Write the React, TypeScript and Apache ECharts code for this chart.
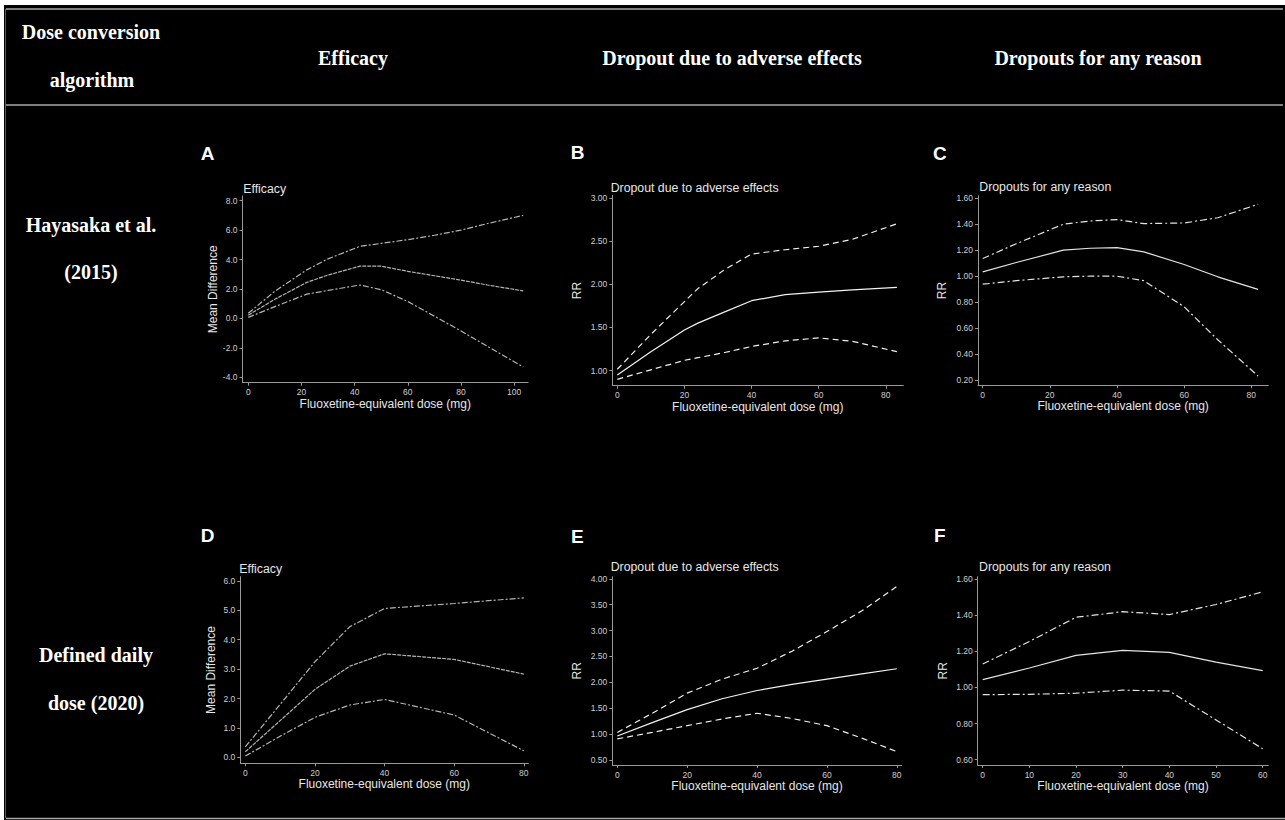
import React, { useEffect, useRef } from "react";
import * as echarts from "echarts";

// ---------- Data ----------
// Panel A: Hayasaka et al. (2015) – Efficacy
const doseA = [0, 10, 22, 30, 42, 50, 60, 70, 80, 90, 103.4];
const upperA = [0.35, 1.85, 3.3, 4.05, 4.9, 5.1, 5.35, 5.65, 6.0, 6.45, 7.0];
const estA = [0.22, 1.3, 2.45, 2.95, 3.55, 3.55, 3.2, 2.9, 2.6, 2.27, 1.87];
const lowerA = [0.07, 0.8, 1.65, 1.9, 2.27, 1.95, 1.15, 0.15, -0.85, -1.9, -3.3];

// Panel B: Hayasaka et al. (2015) – Dropout due to adverse effects
const doseB = [0, 10, 20, 24, 32, 40, 50, 60, 70, 83.3];
const upperB = [1.016, 1.42, 1.8, 1.95, 2.17, 2.35, 2.4, 2.44, 2.52, 2.7];
const estB = [0.95, 1.22, 1.47, 1.55, 1.68, 1.81, 1.88, 1.91, 1.935, 1.965];
const lowerB = [0.9, 1.01, 1.12, 1.15, 1.21, 1.28, 1.345, 1.38, 1.34, 1.22];

// Panel C: Hayasaka et al. (2015) – Dropouts for any reason
const doseC = [0, 10, 24, 32, 40, 48, 60, 70, 82];
const upperC = [1.136, 1.25, 1.4, 1.425, 1.436, 1.405, 1.41, 1.45, 1.554];
const estC = [1.033, 1.105, 1.2, 1.215, 1.22, 1.187, 1.09, 0.995, 0.898];
const lowerC = [0.938, 0.965, 0.995, 1.0, 1.0, 0.965, 0.764, 0.51, 0.231];

// Panel D: Defined daily dose (2020) – Efficacy
const doseD = [0, 10, 20, 30, 40, 60, 80];
const upperD = [0.36, 1.8, 3.25, 4.44, 5.06, 5.23, 5.42];
const estD = [0.19, 1.25, 2.31, 3.1, 3.52, 3.33, 2.83];
const lowerD = [0.045, 0.72, 1.36, 1.78, 1.97, 1.44, 0.225];

// Panel E: Defined daily dose (2020) – Dropout due to adverse effects
const doseE = [0, 10, 20, 30, 40, 50, 60, 70, 80];
const upperE = [1.03, 1.4, 1.79, 2.06, 2.27, 2.6, 2.98, 3.38, 3.85];
const estE = [0.96, 1.22, 1.47, 1.68, 1.84, 1.96, 2.06, 2.16, 2.26];
const lowerE = [0.905, 1.03, 1.16, 1.29, 1.4, 1.3, 1.16, 0.92, 0.66];

// Panel F: Defined daily dose (2020) – Dropouts for any reason
const doseF = [0, 10, 20, 30, 40, 50, 60];
const upperF = [1.13, 1.255, 1.389, 1.42, 1.404, 1.46, 1.53];
const estF = [1.043, 1.108, 1.178, 1.205, 1.194, 1.14, 1.093];
const lowerF = [0.96, 0.962, 0.968, 0.985, 0.98, 0.82, 0.66];

// Tick labels
const xTicksA = [0, 20, 40, 60, 80, 100];
const yTicksA = [-4, -2, 0, 2, 4, 6, 8];
const xTicksB = [0, 20, 40, 60, 80];
const yTicksB = [1, 1.5, 2, 2.5, 3];
const xTicksC = [0, 20, 40, 60, 80];
const yTicksC = [0.2, 0.4, 0.6, 0.8, 1.0, 1.2, 1.4, 1.6];
const xTicksD = [0, 20, 40, 60, 80];
const yTicksD = [0, 1, 2, 3, 4, 5, 6];
const xTicksE = [0, 20, 40, 60, 80];
const yTicksE = [0.5, 1, 1.5, 2, 2.5, 3, 3.5, 4];
const xTicksF = [0, 10, 20, 30, 40, 50, 60];
const yTicksF = [0.6, 0.8, 1.0, 1.2, 1.4, 1.6];

// Texts
const headerTexts = ["Efficacy", "Dropout due to adverse effects", "Dropouts for any reason"];
const rowLabels = [["Hayasaka et al.", "(2015)"], ["Defined daily", "dose (2020)"]];
const xTitle = "Fluoxetine-equivalent dose (mg)";

const SANS = '"Liberation Sans", Arial, Helvetica, sans-serif';
const SERIF = '"Liberation Serif", "Times New Roman", Times, serif';

type Panel = {
  letter: string;
  subtitle: string;
  yName: string;
  dose: number[];
  upper: number[];
  est: number[];
  lower: number[];
  xTicks: number[];
  yTicks: number[];
  dec: number;
  grid: { left: number; top: number; width: number; height: number };
  xMin: number; xMax: number; yMin: number; yMax: number;
  yNameGap: number;
  letterPos: [number, number];
  subPos: [number, number];
  color: string;
  ciDash: number[];
  midDash: number[] | "solid";
};

const panels: Panel[] = [
  {
    letter: "A", subtitle: "Efficacy", yName: "Mean Difference",
    dose: doseA, upper: upperA, est: estA, lower: lowerA, xTicks: xTicksA, yTicks: yTicksA, dec: 1,
    grid: { left: 242.5, top: 196, width: 285.5, height: 186.7 },
    xMin: -2.18, xMax: 105.2, yMin: -4.37, yMax: 8.32, yNameGap: 24,
    letterPos: [200.7, 153], subPos: [243.3, 189.3], color: "#b4b4b4", ciDash: [6, 2, 2, 2], midDash: [4, 1],
  },
  {
    letter: "B", subtitle: "Dropout due to adverse effects", yName: "RR",
    dose: doseB, upper: upperB, est: estB, lower: lowerB, xTicks: xTicksB, yTicks: yTicksB, dec: 2,
    grid: { left: 612.3, top: 195.3, width: 291, height: 190.4 },
    xMin: -1.49, xMax: 85.2, yMin: 0.826, yMax: 3.03, yNameGap: 29,
    letterPos: [570.7, 152.7], subPos: [610.7, 187.7], color: "#f2f2f2", ciDash: [6, 4], midDash: "solid",
  },
  {
    letter: "C", subtitle: "Dropouts for any reason", yName: "RR",
    dose: doseC, upper: upperC, est: estC, lower: lowerC, xTicks: xTicksC, yTicks: yTicksC, dec: 2,
    grid: { left: 978, top: 195.7, width: 290.3, height: 189.6 },
    xMin: -1.4, xMax: 85.06, yMin: 0.159, yMax: 1.62, yNameGap: 30,
    letterPos: [933, 153], subPos: [979.3, 187.3], color: "#e4e4e4", ciDash: [7, 3, 2, 3], midDash: "solid",
  },
  {
    letter: "D", subtitle: "Efficacy", yName: "Mean Difference",
    dose: doseD, upper: upperD, est: estD, lower: lowerD, xTicks: xTicksD, yTicks: yTicksD, dec: 1,
    grid: { left: 240.3, top: 576.7, width: 288, height: 186.6 },
    xMin: -1.44, xMax: 81.3, yMin: -0.2, yMax: 6.14, yNameGap: 23,
    letterPos: [200.7, 535.5], subPos: [239.3, 569.3], color: "#b4b4b4", ciDash: [6, 2, 2, 2], midDash: [4, 1],
  },
  {
    letter: "E", subtitle: "Dropout due to adverse effects", yName: "RR",
    dose: doseE, upper: upperE, est: estE, lower: lowerE, xTicks: xTicksE, yTicks: yTicksE, dec: 2,
    grid: { left: 612.3, top: 576.7, width: 289.4, height: 188.3 },
    xMin: -1.43, xMax: 81.4, yMin: 0.4, yMax: 4.04, yNameGap: 29,
    letterPos: [571, 536], subPos: [610.7, 567.3], color: "#f2f2f2", ciDash: [6, 4], midDash: "solid",
  },
  {
    letter: "F", subtitle: "Dropouts for any reason", yName: "RR",
    dose: doseF, upper: upperF, est: estF, lower: lowerF, xTicks: xTicksF, yTicks: yTicksF, dec: 2,
    grid: { left: 977.7, top: 576.7, width: 290.6, height: 188.3 },
    xMin: -1.07, xMax: 61.2, yMin: 0.57, yMax: 1.614, yNameGap: 29,
    letterPos: [934, 535.5], subPos: [979, 567.3], color: "#e4e4e4", ciDash: [7, 3, 2, 3], midDash: "solid",
  },
];

const AXIS_COLOR = "#9a9a9a";
const LABEL_COLOR = "#cfcfcf";

function buildOption() {
  const grids: any[] = [];
  const xAxes: any[] = [];
  const yAxes: any[] = [];
  const series: any[] = [];
  const graphics: any[] = [];

  panels.forEach((p, i) => {
    grids.push({ ...p.grid, containLabel: false });
    xAxes.push({
      type: "value", gridIndex: i, min: p.xMin, max: p.xMax,
      name: xTitle, nameLocation: "middle", nameGap: 14,
      nameTextStyle: { color: "#e6e6e6", fontSize: 12, fontFamily: SANS },
      axisLine: { show: true, onZero: false, lineStyle: { color: AXIS_COLOR, width: 1 } },
      axisTick: { show: true, length: 3, customValues: p.xTicks, lineStyle: { color: AXIS_COLOR } },
      axisLabel: { customValues: p.xTicks, color: LABEL_COLOR, fontSize: 8.5, fontFamily: SANS, margin: 5,
        formatter: (v: number) => String(Math.round(v)) },
      splitLine: { show: false },
    });
    yAxes.push({
      type: "value", gridIndex: i, min: p.yMin, max: p.yMax,
      name: p.yName, nameLocation: "middle", nameGap: p.yNameGap, nameRotate: 90,
      nameTextStyle: { color: "#e6e6e6", fontSize: 12, fontFamily: SANS },
      axisLine: { show: true, onZero: false, lineStyle: { color: AXIS_COLOR, width: 1 } },
      axisTick: { show: true, length: 3, customValues: p.yTicks, lineStyle: { color: AXIS_COLOR } },
      axisLabel: { customValues: p.yTicks, color: LABEL_COLOR, fontSize: 8.5, fontFamily: SANS, margin: 5,
        formatter: (v: number) => v.toFixed(p.dec) },
      splitLine: { show: false },
    });
    const mk = (vals: number[], dash: number[] | "solid", name: string) => ({
      type: "line", name, xAxisIndex: i, yAxisIndex: i, symbol: "none", silent: true,
      data: p.dose.map((d, k) => [d, vals[k]]),
      lineStyle: { color: p.color, width: 1.2, type: dash },
    });
    series.push(mk(p.upper, p.ciDash, p.letter + "-upper"));
    series.push(mk(p.est, p.midDash, p.letter + "-estimate"));
    series.push(mk(p.lower, p.ciDash, p.letter + "-lower"));

    graphics.push({
      type: "text", x: p.letterPos[0], y: p.letterPos[1],
      style: { text: p.letter, fill: "#ffffff", font: `bold 19px ${SANS}`, textAlign: "left", textVerticalAlign: "middle" },
    });
    graphics.push({
      type: "text", x: p.subPos[0], y: p.subPos[1],
      style: { text: p.subtitle, fill: "#e6e6e6", font: `12.3px ${SANS}`, textAlign: "left", textVerticalAlign: "middle" },
    });
  });

  // table lines
  const lineStyle = { stroke: "#a8a8a8", lineWidth: 1.5 };
  graphics.push({ type: "line", shape: { x1: 6, y1: 9, x2: 1283, y2: 9 }, style: lineStyle });
  graphics.push({ type: "line", shape: { x1: 6, y1: 105, x2: 1283, y2: 105 }, style: lineStyle });
  graphics.push({ type: "line", shape: { x1: 6, y1: 818.5, x2: 1285, y2: 818.5 }, style: lineStyle });
  graphics.push({ type: "line", shape: { x1: 5.5, y1: 9, x2: 5.5, y2: 818 }, style: { stroke: "#5a5a5a", lineWidth: 1 } });

  const headFont = `bold 20px ${SERIF}`;
  const headerCenters = [353, 732, 1098];
  const head = (text: string, x: number, y: number) => ({
    type: "text", x, y,
    style: { text, fill: "#ffffff", font: headFont, textAlign: "center", textVerticalAlign: "middle" },
  });
  graphics.push(head("Dose conversion", 91, 32));
  graphics.push(head("algorithm", 92, 80));
  headerTexts.forEach((t, k) => graphics.push(head(t, headerCenters[k], 58)));
  graphics.push(head(rowLabels[0][0], 91, 225));
  graphics.push(head(rowLabels[0][1], 91, 272));
  graphics.push(head(rowLabels[1][0], 96, 655));
  graphics.push(head(rowLabels[1][1], 96, 703));

  return {
    animation: false,
    backgroundColor: "transparent",
    grid: grids,
    xAxis: xAxes,
    yAxis: yAxes,
    series,
    graphic: { elements: graphics },
  };
}

export default function App() {
  const ref = useRef<HTMLDivElement>(null);
  useEffect(() => {
    if (!ref.current) return;
    const chart = echarts.init(ref.current, undefined, { renderer: "svg" });
    chart.setOption(buildOption() as any);
    return () => chart.dispose();
  }, []);
  return (
    <div style={{ position: "fixed", left: 0, top: 0, width: 1285, height: 820, background: "#ffffff" }}>
      <div style={{ position: "absolute", left: 4, top: 5, width: 1281, height: 815, background: "#000000" }} />
      <div ref={ref} style={{ position: "absolute", left: 0, top: 0, width: 1285, height: 820 }} />
    </div>
  );
}
